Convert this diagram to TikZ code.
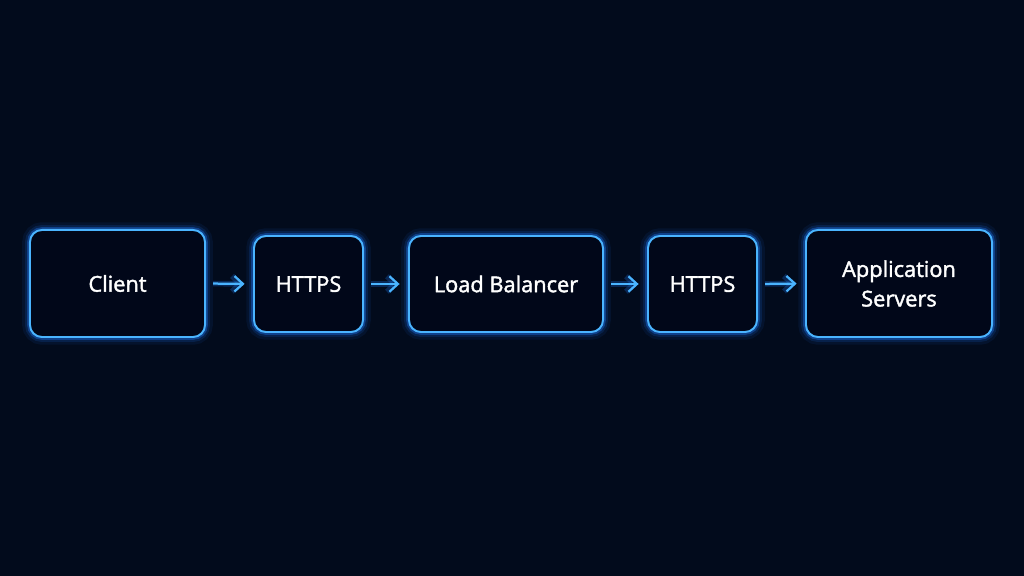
\documentclass[tikz,border=0pt]{standalone}
\usepackage{fontspec}
\setmainfont{Open Sans}
\newfontfamily\labelfont[FakeBold=1.8]{Open Sans}
\usetikzlibrary{arrows.meta}

\definecolor{bgnavy}{HTML}{020B1C}
\definecolor{boxfill}{HTML}{010719}
\definecolor{edge}{HTML}{4AB4FF}
\definecolor{halo}{HTML}{1E7BFF}

\begin{document}
\begin{tikzpicture}[
  x=0.025cm, y=-0.025cm,
  every node/.style={font=\labelfont\fontsize{15.5}{21}\selectfont, text=white, align=center},
  stage/.style={rectangle, rounded corners=0.3cm, fill=boxfill, draw=edge, line width=1.4pt,
    preaction={draw=halo, line width=11pt, opacity=0.08},
    preaction={draw=halo, line width=7pt, opacity=0.14},
    preaction={draw=halo, line width=4pt, opacity=0.35}},
  flow/.style={draw=edge, line width=1.6pt, -{Straight Barb[length=6pt,width=11pt]},
    shorten <=5pt, shorten >=6pt,
    preaction={draw=halo, line width=4pt, opacity=0.25}}
]
\fill[bgnavy] (0,0) rectangle (1024,576);
\useasboundingbox (0,0) rectangle (1024,576);

% the chain of stages
\node[stage, minimum width=4.375cm, minimum height=2.675cm] (client) at (117.5,283.5) {Client};
\node[stage, minimum width=2.725cm, minimum height=2.4cm] (https1) at (308.5,284) {HTTPS};
\node[stage, minimum width=4.85cm, minimum height=2.4cm] (lb) at (506,284) {Load Balancer};
\node[stage, minimum width=2.725cm, minimum height=2.4cm] (https2) at (702.5,284) {HTTPS};
\node[stage, minimum width=4.65cm, minimum height=2.675cm] (app) at (899,283.5) {Application\\Servers};

\foreach \a/\b in {client/https1, https1/lb, lb/https2, https2/app}
  \draw[flow] (\a.east) -- (\b.west);
\end{tikzpicture}
\end{document}
